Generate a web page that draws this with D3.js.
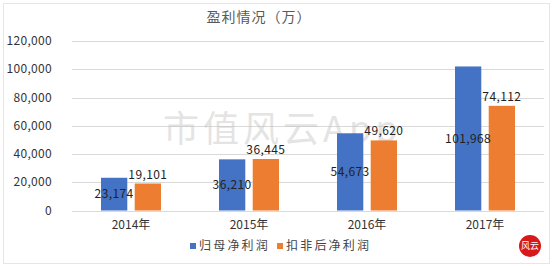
<!DOCTYPE html>
<html>
<head>
<meta charset="utf-8">
<script src="https://cdn.jsdelivr.net/npm/d3@7"></script>
<style>
  body { margin: 0; background: #fff; }
  text { font-family: "Noto Sans CJK SC", "Noto Sans", sans-serif; }
</style>
</head>
<body>
<svg id="chart"></svg>
<script>
const years = ["2014年", "2015年", "2016年", "2017年"];
const seriesNames = ["归母净利润", "扣非后净利润"];
const parentProfit = [23174, 36210, 54673, 101968];
const deductedProfit = [19101, 36445, 49620, 74112];
const yTicks = [0, 20000, 40000, 60000, 80000, 100000, 120000];
const colors = ["#4472c4", "#ed7d31"];

const width = 553, height = 266;
const margin = { top: 41, right: 9, bottom: 55.5, left: 72 };

const svg = d3.select("#chart").attr("width", width).attr("height", height);

// faint sheet border
svg.append("rect")
  .attr("x", 3.5).attr("y", 3.5)
  .attr("width", width - 7).attr("height", height - 6)
  .attr("fill", "none").attr("stroke", "#e6e6e6");

const x0 = d3.scaleBand().domain(years)
  .range([margin.left, width - margin.right]);
const x1 = d3.scaleBand().domain(seriesNames)
  .range([29, 89]).paddingInner(0.22);
const y = d3.scaleLinear().domain([0, 120000])
  .range([height - margin.bottom, margin.top]);

const fmt = d3.format(",");

// gridlines
svg.append("g").selectAll("line")
  .data(yTicks)
  .join("line")
  .attr("x1", margin.left).attr("x2", width - margin.right)
  .attr("y1", d => Math.round(y(d)) + 0.5).attr("y2", d => Math.round(y(d)) + 0.5)
  .attr("stroke", "#d9d9d9").attr("stroke-width", 1);

// y labels
svg.append("g").selectAll("text")
  .data(yTicks)
  .join("text")
  .attr("x", 52).attr("y", d => y(d))
  .attr("dy", "0.35em")
  .attr("text-anchor", "end")
  .attr("font-size", 12)
  .attr("letter-spacing", 0.3)
  .attr("fill", "#333")
  .text(d => fmt(d));

// watermark
svg.append("text")
  .attr("x", 163).attr("y", 142)
  .attr("font-size", 36)
  .attr("font-family", "'Noto Serif CJK SC', 'DejaVu Serif', serif")
  .attr("letter-spacing", 4)
  .attr("fill", "#c4c4c4").attr("opacity", 0.45)
  .text("市值风云App");

const data = years.map((yr, i) => ({
  year: yr,
  values: [parentProfit[i], deductedProfit[i]]
}));

const groups = svg.append("g").selectAll("g")
  .data(data)
  .join("g")
  .attr("transform", d => `translate(${x0(d.year)},0)`);

groups.selectAll("rect")
  .data(d => d.values.map((v, j) => ({ name: seriesNames[j], v, j })))
  .join("rect")
  .attr("x", d => x1(d.name))
  .attr("width", x1.bandwidth())
  .attr("y", d => y(d.v))
  .attr("height", d => y(0) - y(d.v))
  .attr("fill", d => colors[d.j]);

// labels: blue centred inside the bar, orange above it
groups.selectAll("text.val")
  .data(d => d.values.map((v, j) => ({ name: seriesNames[j], v, j })))
  .join("text")
  .attr("class", "val")
  .attr("x", d => x1(d.name) + x1.bandwidth() / 2)
  .attr("y", d => d.j === 0 ? (y(d.v) + y(0)) / 2 : y(d.v) - 5)
  .attr("dy", d => d.j === 0 ? "0.35em" : 0)
  .attr("text-anchor", "middle")
  .attr("font-size", 12)
  .attr("letter-spacing", 0.4)
  .attr("fill", "#222")
  .text(d => fmt(d.v));

// x labels
svg.append("g").selectAll("text")
  .data(years)
  .join("text")
  .attr("x", d => x0(d) + x0.bandwidth() / 2)
  .attr("y", 225)
  .attr("dy", "0.35em")
  .attr("text-anchor", "middle")
  .attr("font-size", 12)
  .attr("fill", "#333")
  .text(d => d);

// title
svg.append("text")
  .attr("x", 259).attr("y", 17)
  .attr("dy", "0.35em")
  .attr("text-anchor", "middle")
  .attr("font-size", 14)
  .attr("letter-spacing", 1)
  .attr("fill", "#595959")
  .text("盈利情况（万）");

// legend
const legendX = [190, 277];
const legend = svg.append("g").selectAll("g")
  .data(seriesNames)
  .join("g")
  .attr("transform", (d, i) => `translate(${legendX[i]},246)`);
legend.append("rect")
  .attr("x", 0).attr("y", -3).attr("width", 6).attr("height", 6)
  .attr("fill", (d, i) => colors[i]);
legend.append("text")
  .attr("x", 9).attr("dy", "0.35em")
  .attr("font-size", 12)
  .attr("letter-spacing", 2.2)
  .attr("fill", "#444")
  .text(d => d);

// logo badge
svg.append("circle").attr("cx", 530).attr("cy", 246).attr("r", 11).attr("fill", "#d7191c");
svg.append("text").attr("x", 530).attr("y", 246).attr("dy", "0.35em")
  .attr("text-anchor", "middle").attr("font-size", 9).attr("fill", "#fff")
  .text("风云");
</script>
</body>
</html>
